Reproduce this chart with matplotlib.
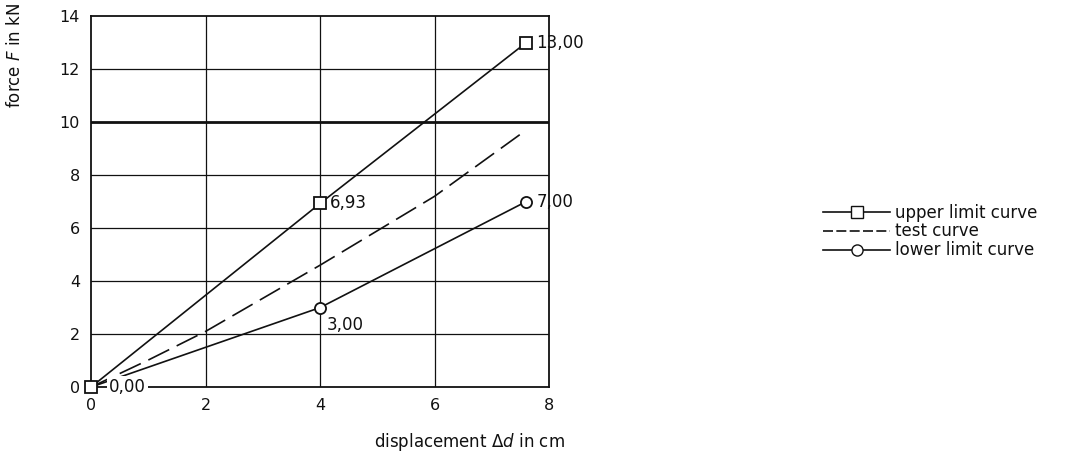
import matplotlib.pyplot as plt
from matplotlib.lines import Line2D

# data
x_pts = [0, 4, 7.6]
upper_vals = [0, 6.93, 13.00]
lower_vals = [0, 3.00, 7.00]
test_x = [0, 1, 2, 4, 6, 7.6]
test_vals = [0, 1.02, 2.1, 4.6, 7.2, 9.7]
x_ticks = [0, 2, 4, 6, 8]
y_ticks = [0, 2, 4, 6, 8, 10, 12, 14]

plt.rcParams['font.family'] = ['DejaVu Sans']
col = "#111111"
fs = 12

fig = plt.figure(figsize=(10.75, 4.63), dpi=100)
ax = fig.add_axes([0.0847, 0.164, 0.426, 0.801])

ax.set_xlim(0, 8)
ax.set_ylim(0, 14)
ax.set_xticks(x_ticks)
ax.set_yticks(y_ticks)
ax.tick_params(length=0, labelsize=11.5, colors=col, pad=8)
for s in ax.spines.values():
    s.set_linewidth(1.3)
    s.set_color(col)

# grid
for gx in x_ticks[1:-1]:
    ax.axvline(gx, color=col, lw=0.9, zorder=1)
for gy in y_ticks[1:-1]:
    ax.axhline(gy, color=col, lw=2.0 if gy == 10 else 0.9, zorder=1)

# curves
ax.plot(test_x, test_vals, color=col, lw=1.2, dashes=(14, 5), dash_capstyle="butt", zorder=2)
ax.plot(x_pts, lower_vals, color=col, lw=1.2, marker="o", markersize=8,
        markerfacecolor="white", markeredgecolor=col, markeredgewidth=1.3,
        markevery=[1, 2], zorder=3, clip_on=False)
ax.plot(x_pts, upper_vals, color=col, lw=1.2, marker="s", markersize=8,
        markerfacecolor="white", markeredgecolor=col, markeredgewidth=1.3,
        zorder=5, clip_on=False)

# value labels
tkw = dict(fontsize=fs, color=col, zorder=4)
ax.text(7.78, 13.0, "13,00", va="center", ha="left", clip_on=False, **tkw)
ax.text(4.17, 6.93, "6,93", va="center", ha="left", **tkw)
ax.text(7.78, 7.0, "7,00", va="center", ha="left", clip_on=False, **tkw)
ax.text(4.12, 2.7, "3,00", va="top", ha="left", **tkw)
ax.text(0.32, 0.0, "0,00", va="center", ha="left", clip_on=False,
        bbox=dict(facecolor="white", edgecolor="none", pad=1.5), **tkw)

fig.text(0.437, 0.035, "displacement $\\Delta d$ in cm", fontsize=fs, color=col, ha="center")
fig.text(0.006, 0.995, "force $F$ in kN", fontsize=fs, color=col, rotation=90,
         ha="left", va="top")

handles = [
    Line2D([], [], color=col, lw=1.2, marker="s", markersize=8,
           markerfacecolor="white", markeredgecolor=col),
    Line2D([], [], color=col, lw=1.2, dashes=(6, 2)),
    Line2D([], [], color=col, lw=1.2, marker="o", markersize=8,
           markerfacecolor="white", markeredgecolor=col),
]
labels = ["upper limit curve", "test curve", "lower limit curve"]
fig.legend(handles, labels, loc="center left", bbox_to_anchor=(0.752, 0.50),
           frameon=False, fontsize=fs, handlelength=4.0, handletextpad=0.3,
           labelspacing=0.05, labelcolor=col)

fig.savefig("out.png", dpi=100)
